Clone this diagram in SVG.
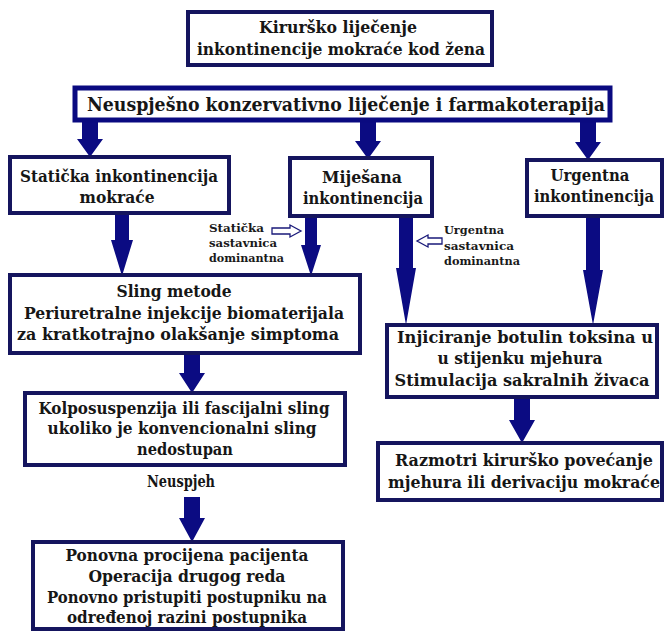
<svg xmlns="http://www.w3.org/2000/svg" width="665" height="632" viewBox="0 0 665 632" font-family="DejaVu Serif, Liberation Serif, serif">
<style>
.box{fill:#ffffff;stroke:#15155e;stroke-width:4}
.bar{fill:#ffffff;stroke:#0a0a80;stroke-width:5}
.t{font-weight:bold;font-size:16px;fill:#161616;text-anchor:middle}
.tb{font-size:19px}
.s{font-weight:bold;font-size:10.5px;fill:#1a1a1a}
.arr{fill:#0b0b82}
.hol{fill:#ffffff;stroke:#1a1a7a;stroke-width:1.3}
</style>
<rect width="665" height="632" fill="#ffffff"/>
<g id="connectors">
<polygon class="arr" points="82,120 98,120 98,139 103,139 90,157 77,139 82,139"/>
<polygon class="arr" points="360,120 376,120 376,141 381,141 368,159 355,141 360,141"/>
<polygon class="arr" points="580,120 596,120 596,142 601,142 588,160 575,142 580,142"/>
<polygon class="arr" points="115,213 129,213 129,240 133,240 122,276 111,240 115,240"/>
<polygon class="arr" points="305,216 317,216 317,245 321,245 311,276 301,245 305,245"/>
<polygon class="arr" points="399,216 413,216 413,268 416,268 406,325 396,268 399,268"/>
<polygon class="arr" points="586,216 600,216 600,270 603,270 593,325 583,270 586,270"/>
<polygon class="arr" points="184,353 200,353 200,373 205,373 192,393 179,373 184,373"/>
<polygon class="arr" points="514,397 530,397 530,420 535,420 522,443 509,420 514,420"/>
<polygon class="arr" points="184,497 200,497 200,518 205,518 192,542 179,518 184,518"/>
<polygon class="hol" points="272,228 290,228 290,225 301,231 290,237 290,234 272,234"/>
<polygon class="hol" points="442,238 428,238 428,235 417,241 428,247 428,244 442,244"/>
</g>
<g id="n1">
<rect class="box" x="188" y="12" width="304" height="53"/>
<text class="t" x="338" y="33" textLength="158" lengthAdjust="spacingAndGlyphs">Kirurško liječenje</text>
<text class="t" x="341" y="55" textLength="288" lengthAdjust="spacingAndGlyphs">inkontinencije mokraće kod žena</text>
</g>
<g id="n2">
<rect class="bar" x="75" y="88" width="535" height="32"/>
<text class="t tb" x="346" y="111" textLength="518" lengthAdjust="spacingAndGlyphs">Neuspješno konzervativno liječenje i farmakoterapija</text>
</g>
<g id="n3">
<rect class="box" x="10" y="157" width="219" height="56"/>
<text class="t" x="119" y="182" textLength="198" lengthAdjust="spacingAndGlyphs">Statička inkontinencija</text>
<text class="t" x="117" y="203" textLength="75" lengthAdjust="spacingAndGlyphs">mokraće</text>
</g>
<g id="n4">
<rect class="box" x="290" y="158" width="142" height="58"/>
<text class="t" x="362" y="183" textLength="80" lengthAdjust="spacingAndGlyphs">Miješana</text>
<text class="t" x="363" y="204" textLength="120" lengthAdjust="spacingAndGlyphs">inkontinencija</text>
</g>
<g id="n5">
<rect class="box" x="527" y="160" width="135" height="56"/>
<text class="t" x="590" y="181" textLength="79" lengthAdjust="spacingAndGlyphs">Urgentna</text>
<text class="t" x="594" y="202" textLength="120" lengthAdjust="spacingAndGlyphs">inkontinencija</text>
</g>
<g id="label-staticka">
<text class="s" x="209" y="232" textLength="55" lengthAdjust="spacingAndGlyphs">Statička</text>
<text class="s" x="209" y="247" textLength="68" lengthAdjust="spacingAndGlyphs">sastavnica</text>
<text class="s" x="209" y="262" textLength="75" lengthAdjust="spacingAndGlyphs">dominantna</text>
</g>
<g id="label-urgentna">
<text class="s" x="444" y="234" textLength="60" lengthAdjust="spacingAndGlyphs">Urgentna</text>
<text class="s" x="444" y="250" textLength="70" lengthAdjust="spacingAndGlyphs">sastavnica</text>
<text class="s" x="444" y="265" textLength="76" lengthAdjust="spacingAndGlyphs">dominantna</text>
</g>
<g id="n6">
<rect class="box" x="10" y="275" width="350" height="78"/>
<text class="t" x="174" y="297" textLength="115" lengthAdjust="spacingAndGlyphs">Sling metode</text>
<text class="t" x="184" y="319" textLength="320" lengthAdjust="spacingAndGlyphs">Periuretralne injekcije biomaterijala</text>
<text class="t" x="178" y="340" textLength="322" lengthAdjust="spacingAndGlyphs">za kratkotrajno olakšanje simptoma</text>
</g>
<g id="n7">
<rect class="box" x="387" y="325" width="270" height="72"/>
<text class="t" x="525" y="343" textLength="256" lengthAdjust="spacingAndGlyphs">Injiciranje botulin toksina u</text>
<text class="t" x="520" y="364" textLength="165" lengthAdjust="spacingAndGlyphs">u stijenku mjehura</text>
<text class="t" x="522" y="386" textLength="255" lengthAdjust="spacingAndGlyphs">Stimulacija sakralnih živaca</text>
</g>
<g id="n8">
<rect class="box" x="25" y="393" width="320" height="72"/>
<text class="t" x="184" y="414" textLength="291" lengthAdjust="spacingAndGlyphs">Kolposuspenzija ili fascijalni sling</text>
<text class="t" x="182" y="434" textLength="269" lengthAdjust="spacingAndGlyphs">ukoliko je konvencionalni sling</text>
<text class="t" x="185" y="455" textLength="96" lengthAdjust="spacingAndGlyphs">nedostupan</text>
</g>
<g id="n9">
<rect class="box" x="378" y="443" width="284" height="57"/>
<text class="t" x="524" y="466" textLength="258" lengthAdjust="spacingAndGlyphs">Razmotri kirurško povećanje</text>
<text class="t" x="524" y="488" textLength="272" lengthAdjust="spacingAndGlyphs">mjehura ili derivaciju mokraće</text>
</g>
<g id="label-neuspjeh">
<text class="t" x="181" y="487" textLength="68" lengthAdjust="spacingAndGlyphs">Neuspjeh</text>
</g>
<g id="n10">
<rect class="box" x="33" y="542" width="310" height="87"/>
<text class="t" x="187" y="561" textLength="243" lengthAdjust="spacingAndGlyphs">Ponovna procijena pacijenta</text>
<text class="t" x="187" y="582" textLength="197" lengthAdjust="spacingAndGlyphs">Operacija drugog reda</text>
<text class="t" x="187" y="603" textLength="280" lengthAdjust="spacingAndGlyphs">Ponovno pristupiti postupniku na</text>
<text class="t" x="187" y="623" textLength="240" lengthAdjust="spacingAndGlyphs">određenoj razini postupnika</text>
</g>
</svg>
